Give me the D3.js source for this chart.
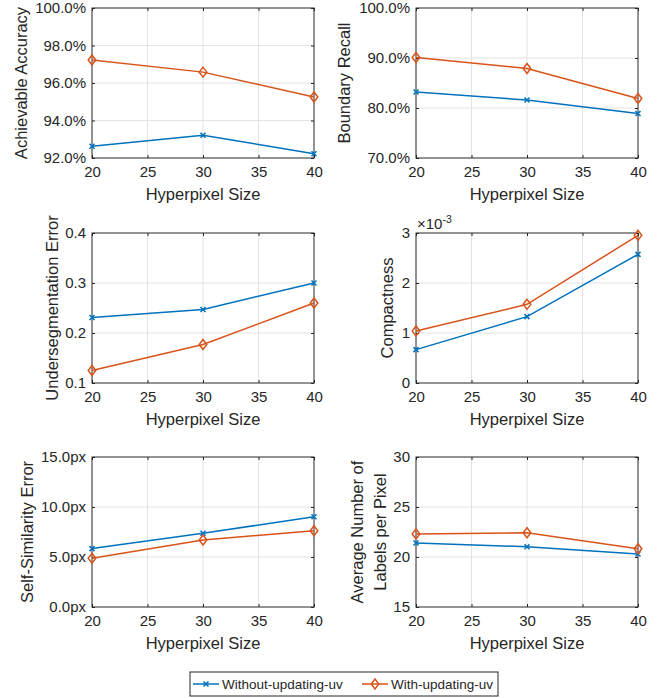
<!DOCTYPE html>
<html lang="en">
<head>
<meta charset="UTF-8">
<title>Hyperpixel metrics</title>
<script src="https://d3js.org/d3.v7.min.js"></script>
<style>
	body { margin: 0; background: #fff; }
	text { font-family: "Liberation Sans", Arial, sans-serif; fill: #262626; }
	.tick line { stroke: #262626; }
	.grid line { stroke: #e3e3e3; stroke-width: 1; }
</style>
</head>
<body>
<script>
// ---- data ----
var hyperpixelSizes = [20, 30, 40];
var xTicks = [20, 25, 30, 35, 40];
var seriesNames = ['Without-updating-uv', 'With-updating-uv'];

var accWithout = [0.9263, 0.9321, 0.9223];
var accWith = [0.9723, 0.9658, 0.9525];
var accTicks = [0.92, 0.94, 0.96, 0.98, 1.0];

var recallWithout = [0.832, 0.816, 0.789];
var recallWith = [0.901, 0.879, 0.819];
var recallTicks = [0.7, 0.8, 0.9, 1.0];

var useWithout = [0.231, 0.247, 0.300];
var useWith = [0.125, 0.177, 0.260];
var useTicks = [0.1, 0.2, 0.3, 0.4];

var compWithout = [0.000667, 0.001327, 0.002573];
var compWith = [0.00104, 0.001573, 0.002953];
var compTicks = [0, 0.001, 0.002, 0.003];

var sseWithout = [5.84, 7.37, 9.03];
var sseWith = [4.88, 6.70, 7.63];
var sseTicks = [0, 5, 10, 15];

var labelsWithout = [21.4, 21.03, 20.3];
var labelsWith = [22.3, 22.43, 20.83];
var labelsTicks = [15, 20, 25, 30];

var colors = ['#0072BD', '#D95319'];

var pct = function (d) { return (d * 100).toFixed(1) + '%'; };
var panels = [
	{ label: ['Achievable Accuracy'], lx: [21], ticks: accTicks, fmt: pct, s: [accWithout, accWith], x: 92, y: 8 },
	{ label: ['Boundary Recall'], lx: [344], ticks: recallTicks, fmt: pct, s: [recallWithout, recallWith], x: 416, y: 8 },
	{ label: ['Undersegmentation Error'], lx: [52], ticks: useTicks, fmt: d3.format('.1f'), s: [useWithout, useWith], x: 92, y: 233 },
	{ label: ['Compactness'], lx: [387], ticks: compTicks, fmt: function (d) { return Math.round(d * 1000); }, s: [compWithout, compWith], x: 416, y: 233, exp: true },
	{ label: ['Self-Similarity Error'], lx: [27], ticks: sseTicks, fmt: function (d) { return d.toFixed(1) + 'px'; }, s: [sseWithout, sseWith], x: 92, y: 457 },
	{ label: ['Average Number of', 'Labels per Pixel'], lx: [357, 380], ticks: labelsTicks, fmt: d3.format('d'), s: [labelsWithout, labelsWith], x: 416, y: 457 }
];

var W = 668, H = 698, pw = 222, ph = 150;

var svg = d3.select('body').append('svg')
	.attr('width', W)
	.attr('height', H);

function marker(g, type, color) {
	if (type === 0) {
		g.append('path').attr('d', 'M-2.5,-2.5L2.5,2.5M-2.5,2.5L2.5,-2.5')
			.attr('stroke', color).attr('stroke-width', 1.5).attr('fill', 'none');
	} else {
		g.append('path').attr('d', 'M0,-5L3.8,0L0,5L-3.8,0Z')
			.attr('stroke', color).attr('stroke-width', 1.5).attr('fill', 'none');
	}
}

panels.forEach(function (p) {
	var g = svg.append('g').attr('transform', 'translate(' + p.x + ',' + p.y + ')');
	var x = d3.scaleLinear().domain([20, 40]).range([0, pw]);
	var y = d3.scaleLinear().domain(d3.extent(p.ticks)).range([ph, 0]);

	// grid
	g.append('g').attr('class', 'grid')
		.selectAll('line.gx').data(xTicks.slice(1, -1)).enter().append('line')
		.attr('x1', x).attr('x2', x).attr('y1', 0).attr('y2', ph);
	g.append('g').attr('class', 'grid')
		.selectAll('line.gy').data(p.ticks.slice(1, -1)).enter().append('line')
		.attr('y1', y).attr('y2', y).attr('x1', 0).attr('x2', pw);

	// axes with inward ticks
	var xb = g.append('g').attr('transform', 'translate(0,' + ph + ')')
		.call(d3.axisBottom(x).tickValues(xTicks).tickSize(-3).tickPadding(8).tickFormat(d3.format('d')));
	var xt = g.append('g')
		.call(d3.axisTop(x).tickValues(xTicks).tickSize(-3).tickFormat(''));
	var yl = g.append('g')
		.call(d3.axisLeft(y).tickValues(p.ticks).tickSize(-3).tickPadding(6).tickFormat(p.fmt));
	var yr = g.append('g').attr('transform', 'translate(' + pw + ',0)')
		.call(d3.axisRight(y).tickValues(p.ticks).tickSize(-3).tickFormat(''));
	[xb, xt, yl, yr].forEach(function (a) {
		a.select('.domain').remove();
		a.selectAll('text').style('font-size', '15px').attr('fill', '#262626')
			.style('font-family', '"Liberation Sans", Arial, sans-serif');
	});

	g.append('rect').attr('width', pw).attr('height', ph)
		.attr('fill', 'none').attr('stroke', '#262626').attr('stroke-width', 1);

	// lines and markers
	var line = d3.line()
		.x(function (d, i) { return x(hyperpixelSizes[i]); })
		.y(function (d) { return y(d); });
	p.s.forEach(function (vals, k) {
		g.append('path').datum(vals).attr('d', line)
			.attr('fill', 'none').attr('stroke', colors[k]).attr('stroke-width', 1.5);
		vals.forEach(function (v, i) {
			var m = g.append('g').attr('transform', 'translate(' + x(hyperpixelSizes[i]) + ',' + y(v) + ')');
			marker(m, k, colors[k]);
		});
	});

	// x label
	g.append('text').attr('x', pw / 2).attr('y', ph + 42)
		.attr('text-anchor', 'middle').style('font-size', '16.5px')
		.text('Hyperpixel Size');

	// y label(s)
	p.label.forEach(function (t, j) {
		svg.append('text')
			.attr('transform', 'translate(' + p.lx[j] + ',' + (p.y + ph / 2) + ') rotate(-90)')
			.attr('text-anchor', 'middle').attr('dy', '0.35em')
			.style('font-size', '16.5px').text(t);
	});

	if (p.exp) {
		var e = g.append('text').attr('x', 1).attr('y', -4).style('font-size', '15px');
		e.append('tspan').text('\u00d710');
		e.append('tspan').attr('dy', -6).style('font-size', '10.5px').text('-3');
	}
});

// legend
var leg = svg.append('g').attr('transform', 'translate(190,672)');
leg.append('rect').attr('width', 308).attr('height', 24)
	.attr('fill', '#fff').attr('stroke', '#262626').attr('stroke-width', 1);
var legX = [3, 172];
seriesNames.forEach(function (n, k) {
	var it = leg.append('g').attr('transform', 'translate(' + legX[k] + ',12)');
	it.append('line').attr('x1', 0).attr('x2', 26).attr('stroke', colors[k]).attr('stroke-width', 1.5);
	var m = it.append('g').attr('transform', 'translate(13,0)');
	marker(m, k, colors[k]);
	it.append('text').attr('x', 29).attr('dy', '0.35em').style('font-size', '13.5px').text(n);
});
</script>
</body>
</html>
